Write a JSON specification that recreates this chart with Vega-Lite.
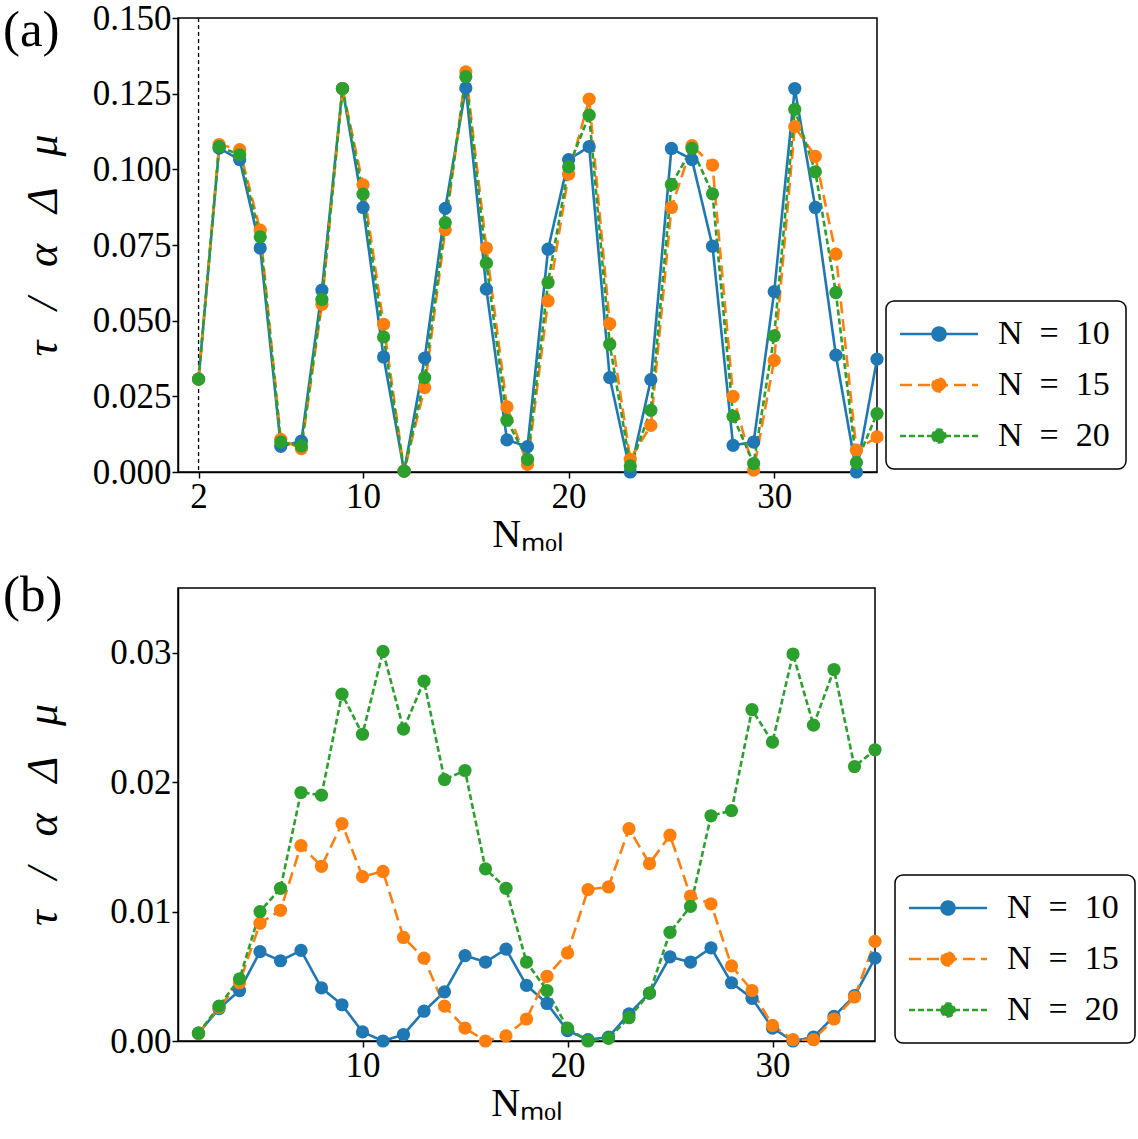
{
  "$schema": "https://vega.github.io/schema/vega-lite/v6.json",
  "background": "white",
  "padding": {"left": 2, "top": 0, "right": 0, "bottom": 0},
  "config": {
    "font": "Liberation Serif",
    "view": {"stroke": "black", "strokeWidth": 1.5},
    "axis": {
      "labelFont": "Liberation Serif", "labelFontSize": 35, "labelColor": "black",
      "titleFont": "Liberation Serif", "titleFontSize": 40, "titleFontWeight": "normal",
      "titleColor": "black", "grid": false, "domainColor": "black", "domainWidth": 1.5,
      "tickColor": "black", "tickWidth": 1.5, "tickSize": 6, "labelPadding": 1
    },
    "axisX": {"titlePadding": 0},
    "legend": {
      "orient": "none", "title": null, "strokeColor": "black", "strokeWidth": 1.5,
      "cornerRadius": 8, "fillColor": "white", "padding": 16,
      "labelFont": "Liberation Serif", "labelFontSize": 34, "labelColor": "black",
      "labelOffset": 42, "symbolOffset": 20, "rowPadding": 17,
      "symbolType": "M-3,0H3M-0.5,0A0.5,0.5 0 1,0 0.5,0A0.5,0.5 0 1,0 -0.5,0Z",
      "symbolSize": 676, "symbolStrokeWidth": 2.5, "symbolOpacity": 1
    },
    "title": {"font": "Liberation Serif", "fontSize": 51, "fontWeight": "normal", "color": "black", "anchor": "start", "frame": "bounds"}
  },
  "resolve": {
    "scale": {"color": "independent", "strokeDash": "independent"},
    "legend": {"color": "independent", "strokeDash": "independent"}
  },
  "spacing": 14,
  "datasets": {
    "marker": [{"Nmol": 2}],
    "panelA": [
      {"Nmol": 2, "series": "N\u2002=\u200210", "tau": 0.0307}, {"Nmol": 2, "series": "N\u2002=\u200215", "tau": 0.0307}, {"Nmol": 2, "series": "N\u2002=\u200220", "tau": 0.0307},
      {"Nmol": 3, "series": "N\u2002=\u200210", "tau": 0.1070}, {"Nmol": 3, "series": "N\u2002=\u200215", "tau": 0.1082}, {"Nmol": 3, "series": "N\u2002=\u200220", "tau": 0.1075},
      {"Nmol": 4, "series": "N\u2002=\u200210", "tau": 0.1032}, {"Nmol": 4, "series": "N\u2002=\u200215", "tau": 0.1065}, {"Nmol": 4, "series": "N\u2002=\u200220", "tau": 0.1048},
      {"Nmol": 5, "series": "N\u2002=\u200210", "tau": 0.0740}, {"Nmol": 5, "series": "N\u2002=\u200215", "tau": 0.0799}, {"Nmol": 5, "series": "N\u2002=\u200220", "tau": 0.0777},
      {"Nmol": 6, "series": "N\u2002=\u200210", "tau": 0.0085}, {"Nmol": 6, "series": "N\u2002=\u200215", "tau": 0.0108}, {"Nmol": 6, "series": "N\u2002=\u200220", "tau": 0.0099},
      {"Nmol": 7, "series": "N\u2002=\u200210", "tau": 0.0102}, {"Nmol": 7, "series": "N\u2002=\u200215", "tau": 0.0077}, {"Nmol": 7, "series": "N\u2002=\u200220", "tau": 0.0086},
      {"Nmol": 8, "series": "N\u2002=\u200210", "tau": 0.0601}, {"Nmol": 8, "series": "N\u2002=\u200215", "tau": 0.0554}, {"Nmol": 8, "series": "N\u2002=\u200220", "tau": 0.0570},
      {"Nmol": 9, "series": "N\u2002=\u200210", "tau": 0.1267}, {"Nmol": 9, "series": "N\u2002=\u200215", "tau": 0.1267}, {"Nmol": 9, "series": "N\u2002=\u200220", "tau": 0.1267},
      {"Nmol": 10, "series": "N\u2002=\u200210", "tau": 0.0874}, {"Nmol": 10, "series": "N\u2002=\u200215", "tau": 0.0949}, {"Nmol": 10, "series": "N\u2002=\u200220", "tau": 0.0918},
      {"Nmol": 11, "series": "N\u2002=\u200210", "tau": 0.0380}, {"Nmol": 11, "series": "N\u2002=\u200215", "tau": 0.0488}, {"Nmol": 11, "series": "N\u2002=\u200220", "tau": 0.0446},
      {"Nmol": 12, "series": "N\u2002=\u200210", "tau": 0.0003}, {"Nmol": 12, "series": "N\u2002=\u200215", "tau": 0.0003}, {"Nmol": 12, "series": "N\u2002=\u200220", "tau": 0.0003},
      {"Nmol": 13, "series": "N\u2002=\u200210", "tau": 0.0376}, {"Nmol": 13, "series": "N\u2002=\u200215", "tau": 0.0279}, {"Nmol": 13, "series": "N\u2002=\u200220", "tau": 0.0312},
      {"Nmol": 14, "series": "N\u2002=\u200210", "tau": 0.0871}, {"Nmol": 14, "series": "N\u2002=\u200215", "tau": 0.0800}, {"Nmol": 14, "series": "N\u2002=\u200220", "tau": 0.0824},
      {"Nmol": 15, "series": "N\u2002=\u200210", "tau": 0.1269}, {"Nmol": 15, "series": "N\u2002=\u200215", "tau": 0.1322}, {"Nmol": 15, "series": "N\u2002=\u200220", "tau": 0.1306},
      {"Nmol": 16, "series": "N\u2002=\u200210", "tau": 0.0604}, {"Nmol": 16, "series": "N\u2002=\u200215", "tau": 0.0740}, {"Nmol": 16, "series": "N\u2002=\u200220", "tau": 0.0690},
      {"Nmol": 17, "series": "N\u2002=\u200210", "tau": 0.0106}, {"Nmol": 17, "series": "N\u2002=\u200215", "tau": 0.0215}, {"Nmol": 17, "series": "N\u2002=\u200220", "tau": 0.0171},
      {"Nmol": 18, "series": "N\u2002=\u200210", "tau": 0.0084}, {"Nmol": 18, "series": "N\u2002=\u200215", "tau": 0.0025}, {"Nmol": 18, "series": "N\u2002=\u200220", "tau": 0.0042},
      {"Nmol": 19, "series": "N\u2002=\u200210", "tau": 0.0736}, {"Nmol": 19, "series": "N\u2002=\u200215", "tau": 0.0565}, {"Nmol": 19, "series": "N\u2002=\u200220", "tau": 0.0626},
      {"Nmol": 20, "series": "N\u2002=\u200210", "tau": 0.1032}, {"Nmol": 20, "series": "N\u2002=\u200215", "tau": 0.0984}, {"Nmol": 20, "series": "N\u2002=\u200220", "tau": 0.1008},
      {"Nmol": 21, "series": "N\u2002=\u200210", "tau": 0.1075}, {"Nmol": 21, "series": "N\u2002=\u200215", "tau": 0.1232}, {"Nmol": 21, "series": "N\u2002=\u200220", "tau": 0.1179},
      {"Nmol": 22, "series": "N\u2002=\u200210", "tau": 0.0312}, {"Nmol": 22, "series": "N\u2002=\u200215", "tau": 0.0490}, {"Nmol": 22, "series": "N\u2002=\u200220", "tau": 0.0422},
      {"Nmol": 23, "series": "N\u2002=\u200210", "tau": 0.0000}, {"Nmol": 23, "series": "N\u2002=\u200215", "tau": 0.0042}, {"Nmol": 23, "series": "N\u2002=\u200220", "tau": 0.0020},
      {"Nmol": 24, "series": "N\u2002=\u200210", "tau": 0.0305}, {"Nmol": 24, "series": "N\u2002=\u200215", "tau": 0.0154}, {"Nmol": 24, "series": "N\u2002=\u200220", "tau": 0.0204},
      {"Nmol": 25, "series": "N\u2002=\u200210", "tau": 0.1069}, {"Nmol": 25, "series": "N\u2002=\u200215", "tau": 0.0874}, {"Nmol": 25, "series": "N\u2002=\u200220", "tau": 0.0950},
      {"Nmol": 26, "series": "N\u2002=\u200210", "tau": 0.1032}, {"Nmol": 26, "series": "N\u2002=\u200215", "tau": 0.1078}, {"Nmol": 26, "series": "N\u2002=\u200220", "tau": 0.1069},
      {"Nmol": 27, "series": "N\u2002=\u200210", "tau": 0.0746}, {"Nmol": 27, "series": "N\u2002=\u200215", "tau": 0.1014}, {"Nmol": 27, "series": "N\u2002=\u200220", "tau": 0.0919},
      {"Nmol": 28, "series": "N\u2002=\u200210", "tau": 0.0088}, {"Nmol": 28, "series": "N\u2002=\u200215", "tau": 0.0250}, {"Nmol": 28, "series": "N\u2002=\u200220", "tau": 0.0184},
      {"Nmol": 29, "series": "N\u2002=\u200210", "tau": 0.0099}, {"Nmol": 29, "series": "N\u2002=\u200215", "tau": 0.0006}, {"Nmol": 29, "series": "N\u2002=\u200220", "tau": 0.0028},
      {"Nmol": 30, "series": "N\u2002=\u200210", "tau": 0.0596}, {"Nmol": 30, "series": "N\u2002=\u200215", "tau": 0.0369}, {"Nmol": 30, "series": "N\u2002=\u200220", "tau": 0.0450},
      {"Nmol": 31, "series": "N\u2002=\u200210", "tau": 0.1267}, {"Nmol": 31, "series": "N\u2002=\u200215", "tau": 0.1141}, {"Nmol": 31, "series": "N\u2002=\u200220", "tau": 0.1198},
      {"Nmol": 32, "series": "N\u2002=\u200210", "tau": 0.0874}, {"Nmol": 32, "series": "N\u2002=\u200215", "tau": 0.1043}, {"Nmol": 32, "series": "N\u2002=\u200220", "tau": 0.0992},
      {"Nmol": 33, "series": "N\u2002=\u200210", "tau": 0.0386}, {"Nmol": 33, "series": "N\u2002=\u200215", "tau": 0.0720}, {"Nmol": 33, "series": "N\u2002=\u200220", "tau": 0.0593},
      {"Nmol": 34, "series": "N\u2002=\u200210", "tau": 0.0000}, {"Nmol": 34, "series": "N\u2002=\u200215", "tau": 0.0072}, {"Nmol": 34, "series": "N\u2002=\u200220", "tau": 0.0031},
      {"Nmol": 35, "series": "N\u2002=\u200210", "tau": 0.0373}, {"Nmol": 35, "series": "N\u2002=\u200215", "tau": 0.0116}, {"Nmol": 35, "series": "N\u2002=\u200220", "tau": 0.0193}
    ],
    "panelB": [
      {"Nmol": 2, "series": "N\u2002=\u200210", "tau": 0.0006}, {"Nmol": 2, "series": "N\u2002=\u200215", "tau": 0.0006}, {"Nmol": 2, "series": "N\u2002=\u200220", "tau": 0.0006},
      {"Nmol": 3, "series": "N\u2002=\u200210", "tau": 0.0025}, {"Nmol": 3, "series": "N\u2002=\u200215", "tau": 0.0026}, {"Nmol": 3, "series": "N\u2002=\u200220", "tau": 0.0027},
      {"Nmol": 4, "series": "N\u2002=\u200210", "tau": 0.0039}, {"Nmol": 4, "series": "N\u2002=\u200215", "tau": 0.0045}, {"Nmol": 4, "series": "N\u2002=\u200220", "tau": 0.0048},
      {"Nmol": 5, "series": "N\u2002=\u200210", "tau": 0.0069}, {"Nmol": 5, "series": "N\u2002=\u200215", "tau": 0.0091}, {"Nmol": 5, "series": "N\u2002=\u200220", "tau": 0.0100},
      {"Nmol": 6, "series": "N\u2002=\u200210", "tau": 0.0062}, {"Nmol": 6, "series": "N\u2002=\u200215", "tau": 0.0101}, {"Nmol": 6, "series": "N\u2002=\u200220", "tau": 0.0118},
      {"Nmol": 7, "series": "N\u2002=\u200210", "tau": 0.0070}, {"Nmol": 7, "series": "N\u2002=\u200215", "tau": 0.0151}, {"Nmol": 7, "series": "N\u2002=\u200220", "tau": 0.0192},
      {"Nmol": 8, "series": "N\u2002=\u200210", "tau": 0.0041}, {"Nmol": 8, "series": "N\u2002=\u200215", "tau": 0.0135}, {"Nmol": 8, "series": "N\u2002=\u200220", "tau": 0.0190},
      {"Nmol": 9, "series": "N\u2002=\u200210", "tau": 0.0028}, {"Nmol": 9, "series": "N\u2002=\u200215", "tau": 0.0168}, {"Nmol": 9, "series": "N\u2002=\u200220", "tau": 0.0268},
      {"Nmol": 10, "series": "N\u2002=\u200210", "tau": 0.0007}, {"Nmol": 10, "series": "N\u2002=\u200215", "tau": 0.0127}, {"Nmol": 10, "series": "N\u2002=\u200220", "tau": 0.0237},
      {"Nmol": 11, "series": "N\u2002=\u200210", "tau": 0.0000}, {"Nmol": 11, "series": "N\u2002=\u200215", "tau": 0.0131}, {"Nmol": 11, "series": "N\u2002=\u200220", "tau": 0.0301},
      {"Nmol": 12, "series": "N\u2002=\u200210", "tau": 0.0005}, {"Nmol": 12, "series": "N\u2002=\u200215", "tau": 0.0080}, {"Nmol": 12, "series": "N\u2002=\u200220", "tau": 0.0241},
      {"Nmol": 13, "series": "N\u2002=\u200210", "tau": 0.0023}, {"Nmol": 13, "series": "N\u2002=\u200215", "tau": 0.0064}, {"Nmol": 13, "series": "N\u2002=\u200220", "tau": 0.0278},
      {"Nmol": 14, "series": "N\u2002=\u200210", "tau": 0.0038}, {"Nmol": 14, "series": "N\u2002=\u200215", "tau": 0.0027}, {"Nmol": 14, "series": "N\u2002=\u200220", "tau": 0.0202},
      {"Nmol": 15, "series": "N\u2002=\u200210", "tau": 0.0066}, {"Nmol": 15, "series": "N\u2002=\u200215", "tau": 0.0010}, {"Nmol": 15, "series": "N\u2002=\u200220", "tau": 0.0209},
      {"Nmol": 16, "series": "N\u2002=\u200210", "tau": 0.0061}, {"Nmol": 16, "series": "N\u2002=\u200215", "tau": 0.0000}, {"Nmol": 16, "series": "N\u2002=\u200220", "tau": 0.0133},
      {"Nmol": 17, "series": "N\u2002=\u200210", "tau": 0.0071}, {"Nmol": 17, "series": "N\u2002=\u200215", "tau": 0.0004}, {"Nmol": 17, "series": "N\u2002=\u200220", "tau": 0.0118},
      {"Nmol": 18, "series": "N\u2002=\u200210", "tau": 0.0043}, {"Nmol": 18, "series": "N\u2002=\u200215", "tau": 0.0017}, {"Nmol": 18, "series": "N\u2002=\u200220", "tau": 0.0061},
      {"Nmol": 19, "series": "N\u2002=\u200210", "tau": 0.0029}, {"Nmol": 19, "series": "N\u2002=\u200215", "tau": 0.0050}, {"Nmol": 19, "series": "N\u2002=\u200220", "tau": 0.0039},
      {"Nmol": 20, "series": "N\u2002=\u200210", "tau": 0.0008}, {"Nmol": 20, "series": "N\u2002=\u200215", "tau": 0.0068}, {"Nmol": 20, "series": "N\u2002=\u200220", "tau": 0.0010},
      {"Nmol": 21, "series": "N\u2002=\u200210", "tau": 0.0001}, {"Nmol": 21, "series": "N\u2002=\u200215", "tau": 0.0117}, {"Nmol": 21, "series": "N\u2002=\u200220", "tau": 0.0000},
      {"Nmol": 22, "series": "N\u2002=\u200210", "tau": 0.0003}, {"Nmol": 22, "series": "N\u2002=\u200215", "tau": 0.0119}, {"Nmol": 22, "series": "N\u2002=\u200220", "tau": 0.0002},
      {"Nmol": 23, "series": "N\u2002=\u200210", "tau": 0.0021}, {"Nmol": 23, "series": "N\u2002=\u200215", "tau": 0.0164}, {"Nmol": 23, "series": "N\u2002=\u200220", "tau": 0.0018},
      {"Nmol": 24, "series": "N\u2002=\u200210", "tau": 0.0037}, {"Nmol": 24, "series": "N\u2002=\u200215", "tau": 0.0137}, {"Nmol": 24, "series": "N\u2002=\u200220", "tau": 0.0037},
      {"Nmol": 25, "series": "N\u2002=\u200210", "tau": 0.0065}, {"Nmol": 25, "series": "N\u2002=\u200215", "tau": 0.0159}, {"Nmol": 25, "series": "N\u2002=\u200220", "tau": 0.0084},
      {"Nmol": 26, "series": "N\u2002=\u200210", "tau": 0.0061}, {"Nmol": 26, "series": "N\u2002=\u200215", "tau": 0.0112}, {"Nmol": 26, "series": "N\u2002=\u200220", "tau": 0.0104},
      {"Nmol": 27, "series": "N\u2002=\u200210", "tau": 0.0072}, {"Nmol": 27, "series": "N\u2002=\u200215", "tau": 0.0106}, {"Nmol": 27, "series": "N\u2002=\u200220", "tau": 0.0174},
      {"Nmol": 28, "series": "N\u2002=\u200210", "tau": 0.0045}, {"Nmol": 28, "series": "N\u2002=\u200215", "tau": 0.0058}, {"Nmol": 28, "series": "N\u2002=\u200220", "tau": 0.0178},
      {"Nmol": 29, "series": "N\u2002=\u200210", "tau": 0.0033}, {"Nmol": 29, "series": "N\u2002=\u200215", "tau": 0.0039}, {"Nmol": 29, "series": "N\u2002=\u200220", "tau": 0.0256},
      {"Nmol": 30, "series": "N\u2002=\u200210", "tau": 0.0010}, {"Nmol": 30, "series": "N\u2002=\u200215", "tau": 0.0012}, {"Nmol": 30, "series": "N\u2002=\u200220", "tau": 0.0231},
      {"Nmol": 31, "series": "N\u2002=\u200210", "tau": 0.0000}, {"Nmol": 31, "series": "N\u2002=\u200215", "tau": 0.0001}, {"Nmol": 31, "series": "N\u2002=\u200220", "tau": 0.0299},
      {"Nmol": 32, "series": "N\u2002=\u200210", "tau": 0.0003}, {"Nmol": 32, "series": "N\u2002=\u200215", "tau": 0.0001}, {"Nmol": 32, "series": "N\u2002=\u200220", "tau": 0.0244},
      {"Nmol": 33, "series": "N\u2002=\u200210", "tau": 0.0019}, {"Nmol": 33, "series": "N\u2002=\u200215", "tau": 0.0017}, {"Nmol": 33, "series": "N\u2002=\u200220", "tau": 0.0287},
      {"Nmol": 34, "series": "N\u2002=\u200210", "tau": 0.0035}, {"Nmol": 34, "series": "N\u2002=\u200215", "tau": 0.0034}, {"Nmol": 34, "series": "N\u2002=\u200220", "tau": 0.0212},
      {"Nmol": 35, "series": "N\u2002=\u200210", "tau": 0.0064}, {"Nmol": 35, "series": "N\u2002=\u200215", "tau": 0.0077}, {"Nmol": 35, "series": "N\u2002=\u200220", "tau": 0.0225}
    ]
  },
  "vconcat": [
    {
      "width": 699,
      "height": 454,
      "title": {"text": "(a)", "offset": -56, "dx": -18},
      "layer": [
        {
          "data": {"name": "marker"},
          "mark": {"type": "rule", "color": "black", "strokeWidth": 1.3, "strokeDash": [4, 3]},
          "encoding": {"x": {"field": "Nmol", "type": "quantitative"}}
        },
        {
          "data": {"name": "panelA"},
          "mark": {"type": "line", "strokeWidth": 2.6},
          "encoding": {
            "x": {"field": "Nmol", "type": "quantitative", "scale": {"domain": [1, 35], "nice": false, "zero": false},
                  "axis": {"values": [2, 10, 20, 30], "title": "Nₘₒₗ"}},
            "y": {"field": "tau", "type": "quantitative", "scale": {"domain": [0, 0.15], "nice": false},
                  "axis": {"values": [0, 0.025, 0.05, 0.075, 0.1, 0.125, 0.15], "format": ".3f", "title": "τ\u2002\u2009/\u2002\u2009α\u2002\u2009Δ\u2002\u2009μ", "titleFontStyle": "italic", "titleFontSize": 44, "titleX": -113}},
            "color": {"field": "series", "type": "nominal",
                      "scale": {"domain": ["N\u2002=\u200210", "N\u2002=\u200215", "N\u2002=\u200220"], "range": ["#1f77b4", "#ff7f0e", "#2ca02c"]},
                      "legend": {"legendX": 708, "legendY": 283}},
            "strokeDash": {"field": "series", "type": "nominal",
                           "scale": {"domain": ["N\u2002=\u200210", "N\u2002=\u200215", "N\u2002=\u200220"], "range": [[1, 0], [12, 6], [6, 3]]},
                           "legend": {"legendX": 708, "legendY": 283}}
          }
        },
        {
          "data": {"name": "panelA"},
          "mark": {"type": "circle", "size": 175, "opacity": 1},
          "encoding": {
            "x": {"field": "Nmol", "type": "quantitative"},
            "y": {"field": "tau", "type": "quantitative"},
            "color": {"field": "series", "type": "nominal"}
          }
        }
      ]
    },
    {
      "width": 697,
      "height": 453,
      "title": {"text": "(b)", "offset": -34, "dx": -18},
      "layer": [
        {
          "data": {"name": "panelB"},
          "mark": {"type": "line", "strokeWidth": 2.6},
          "encoding": {
            "x": {"field": "Nmol", "type": "quantitative", "scale": {"domain": [1, 35], "nice": false, "zero": false},
                  "axis": {"values": [10, 20, 30], "title": "Nₘₒₗ"}},
            "y": {"field": "tau", "type": "quantitative", "scale": {"domain": [0, 0.035], "nice": false},
                  "axis": {"values": [0, 0.01, 0.02, 0.03], "format": ".2f", "title": "τ\u2002\u2009/\u2002\u2009α\u2002\u2009Δ\u2002\u2009μ", "titleFontStyle": "italic", "titleFontSize": 44, "titleX": -113}},
            "color": {"field": "series", "type": "nominal",
                      "scale": {"domain": ["N\u2002=\u200210", "N\u2002=\u200215", "N\u2002=\u200220"], "range": ["#1f77b4", "#ff7f0e", "#2ca02c"]},
                      "legend": {"legendX": 717, "legendY": 287}},
            "strokeDash": {"field": "series", "type": "nominal",
                           "scale": {"domain": ["N\u2002=\u200210", "N\u2002=\u200215", "N\u2002=\u200220"], "range": [[1, 0], [12, 6], [6, 3]]},
                           "legend": {"legendX": 717, "legendY": 287}}
          }
        },
        {
          "data": {"name": "panelB"},
          "mark": {"type": "circle", "size": 175, "opacity": 1},
          "encoding": {
            "x": {"field": "Nmol", "type": "quantitative"},
            "y": {"field": "tau", "type": "quantitative"},
            "color": {"field": "series", "type": "nominal"}
          }
        }
      ]
    }
  ]
}
